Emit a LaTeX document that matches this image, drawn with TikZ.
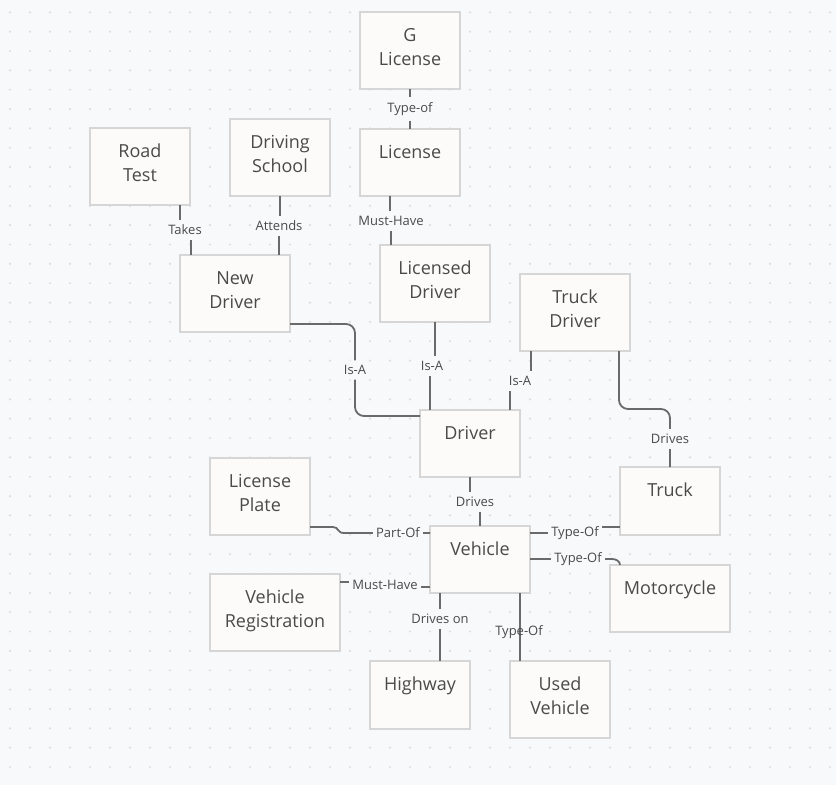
\documentclass[tikz,border=0pt]{standalone}
\usepackage{fontspec}
\setmainfont{Open Sans}
\usepackage{xcolor}
\usetikzlibrary{positioning,calc}

\definecolor{bg}{HTML}{F8F9FB}
\definecolor{dotc}{HTML}{DCDEE2}
\definecolor{boxfill}{HTML}{FCFBF9}
\definecolor{boxline}{HTML}{D6D6D6}
\definecolor{conline}{HTML}{6A6A6A}
\definecolor{ink}{HTML}{4A4A4A}

\tikzset{
  etext/.style={anchor=north, yshift=-16pt, align=center, inner sep=0pt,
    font=\fontsize{18}{24}\selectfont, text=ink},
  entity/.style={draw=boxline, fill=boxfill, line width=1.6pt, anchor=north west,
    inner sep=0pt, outer sep=0pt, minimum width=100pt, minimum height=67pt,
    label={[etext]north:{#1}}},
  tall/.style={minimum height=77pt},
  conn/.style={draw=conline, line width=1.8pt},
  rel/.style={fill=bg, inner xsep=3pt, inner ysep=5pt,
    font=\fontsize{13}{15}\selectfont, text=ink}
}

\begin{document}
\begin{tikzpicture}[x=1pt, y=-1pt]
    \useasboundingbox (0,0) rectangle (836,785);
    \fill[bg] (0,0) rectangle (836,785);
    \foreach \i in {0, ..., 41}
      \foreach \j in {0, ..., 39}
        \fill[dotc] (10 + 20*\i, 12.3 + 19.35*\j) circle (1.2);

      % Licenses
      \node[entity={G\\License}, tall] (glic) at (360,12) {};
      \node[entity=License] (lic) at (360,129) {};

      % Drivers
      \node[entity={Road\\Test}, tall] (road) at (90,128) {};
      \node[entity={Driving\\School}, tall] (school) at (230,119) {};
      \node[entity={New\\Driver}, tall, minimum width=110pt] (newdrv) at (180,255) {};
      \node[entity={Licensed\\Driver}, tall, minimum width=110pt] (licdrv) at (380,245) {};
      \node[entity={Truck\\Driver}, tall, minimum width=110pt] (truckdrv) at (520,274) {};
      \node[entity=Driver] (driver) at (420,410) {};

      % Vehicles
      \node[entity={License\\Plate}, tall] (plate) at (210,458) {};
      \node[entity=Truck, minimum height=68pt] (truck) at (620,467) {};
      \node[entity=Vehicle] (vehicle) at (430,526) {};
      \node[entity={Vehicle\\Registration}, tall, minimum width=130pt] (reg) at (210,574) {};
      \node[entity=Motorcycle, minimum width=120pt] (moto) at (610,565) {};
      \node[entity=Highway, minimum height=68pt] (highway) at (370,661) {};
      \node[entity={Used\\Vehicle}, tall] (used) at (510,661) {};

      % Relations round the license
      \draw[conn] (glic.south) -- (410,109) node[rel] {Type-of} -- (lic.north);
      \draw[conn] ([xshift=30]lic.south west) |- (391,221) node[rel] {Must-Have}
        -| ([xshift=11]licdrv.north west);
      \draw[conn] ([xshift=40]road.south) |- (185,230) node[rel] {Takes}
        -| ([xshift=-44]newdrv.north);
      \draw[conn] (school.south) |- (279,226) node[rel] {Attends}
        -| ([xshift=-11]newdrv.north east);

      % Is-A
      \draw[conn, rounded corners=9] ([yshift=8]newdrv.south east) -| (355,370)
        node[rel] {Is-A} |- ([yshift=-6]driver.north west);
      \draw[conn] (licdrv.south) |- (432,366) node[rel] {Is-A} -| ([xshift=-40]driver.north);
      \draw[conn] ([xshift=11]truckdrv.south west) |- (520,381) node[rel] {Is-A}
        -| ([xshift=-10]driver.north east);
      \draw[conn, rounded corners=9] ([xshift=-11]truckdrv.south east) |- (670,409)
        -- (670,439) node[rel] {Drives} -- (truck.north);

      % Relations round the vehicle
      \draw[conn] (driver.south) |- (475,502) node[rel] {Drives} -| (vehicle.north);
      \draw[conn] ([yshift=8]plate.south east) -- (333,527)
        .. controls (339,527) and (337,533) .. (344,533)
        -- (398,533) node[rel] {Part-Of} -- ([yshift=-7]vehicle.north west);
      \draw[conn] ([yshift=-7]vehicle.north east) -- (575,533) node[rel] {Type-Of}
        |- ([yshift=8]truck.south west);
      \draw[conn] ([yshift=-33]vehicle.north east) -- (578,559) node[rel] {Type-Of}
        -- (612,559) to[out=0, in=90] ([xshift=10]moto.north west);
      \draw[conn] ([yshift=6]vehicle.south west) -| (385,585) node[rel] {Must-Have}
        |- ([yshift=-8]reg.north east);
      \draw[conn] ([xshift=10]vehicle.south west) -- (440,619) node[rel] {Drives on}
        -- ([xshift=20]highway.north);
      \draw[conn] ([xshift=-10]vehicle.south east) -- ([xshift=10]used.north west)
        node[rel, fill=none, pos=.57, xshift=-1] {Type-Of};
  \end{tikzpicture}
\end{document}
